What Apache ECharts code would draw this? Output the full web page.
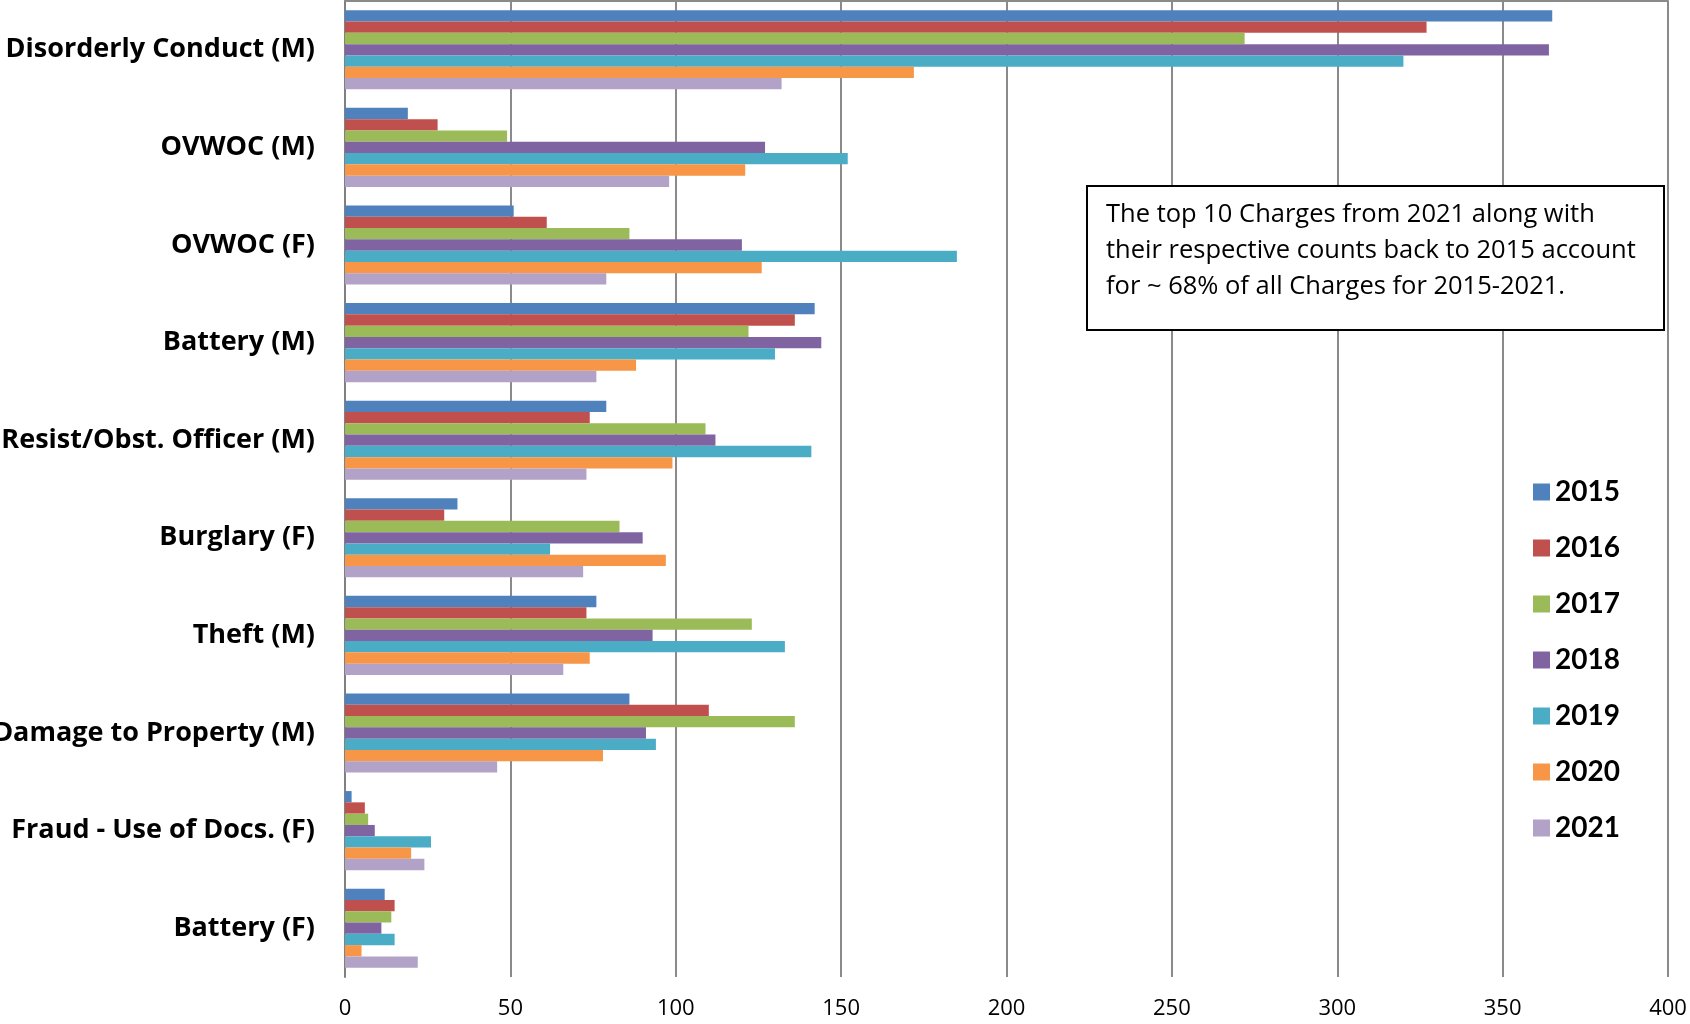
<!DOCTYPE html>
<html>
<head>
<meta charset="utf-8">
<script src="https://cdn.jsdelivr.net/npm/echarts@6/dist/echarts.min.js"></script>
<style>html,body{margin:0;padding:0;background:#fff}#c{width:1690px;height:1024px}</style>
</head>
<body>
<div id="c"></div>
<script>
const categories = ["Disorderly Conduct (M)", "OVWOC (M)", "OVWOC (F)", "Battery (M)", "Resist/Obst. Officer (M)", "Burglary (F)", "Theft (M)", "Damage to Property (M)", "Fraud - Use of Docs. (F)", "Battery (F)"];
const years = ["2015", "2016", "2017", "2018", "2019", "2020", "2021"];
const v2015 = [365, 19, 51, 142, 79, 34, 76, 86, 2, 12];
const v2016 = [327, 28, 61, 136, 74, 30, 73, 110, 6, 15];
const v2017 = [272, 49, 86, 122, 109, 83, 123, 136, 7, 14];
const v2018 = [364, 127, 120, 144, 112, 90, 93, 91, 9, 11];
const v2019 = [320, 152, 185, 130, 141, 62, 133, 94, 26, 15];
const v2020 = [172, 121, 126, 88, 99, 97, 74, 78, 20, 5];
const v2021 = [132, 98, 79, 76, 73, 72, 66, 46, 24, 22];
const xTicks = [0, 50, 100, 150, 200, 250, 300, 350, 400];
const noteLines = ["The top 10 Charges from 2021 along with", "their respective counts back to 2015 account", "for ~ 68% of all Charges for 2015-2021."];

const colors = ["#4F81BD", "#C0504D", "#9BBB59", "#8064A2", "#4BACC6", "#F79646", "#B3A2C7"];
const allValues = [v2015, v2016, v2017, v2018, v2019, v2020, v2021];
const FONT = "Lato, 'Open Sans', sans-serif";
const FONT2 = "'Open Sans', Lato, sans-serif";

const chart = echarts.init(document.getElementById('c'), null, {renderer: 'canvas'});
chart.setOption({
  animation: false,
  backgroundColor: '#ffffff',
  color: colors,
  grid: {left: 345, right: 22, top: 1, bottom: 47, containLabel: false, outerBoundsMode: 'none'},
  legend: {
    orient: 'vertical',
    left: 1528,
    top: 473,
    itemWidth: 17,
    itemHeight: 17,
    itemGap: 28,
    icon: 'rect',
    data: years,
    textStyle: {fontFamily: FONT, fontWeight: 'bold', fontSize: 28, color: '#000'}
  },
  xAxis: [{
    type: 'value',
    min: xTicks[0],
    max: xTicks[xTicks.length - 1],
    interval: xTicks[1] - xTicks[0],
    position: 'bottom',
    axisLine: {show: false},
    axisTick: {show: false},
    axisLabel: {fontFamily: FONT2, fontSize: 22, color: '#000', margin: 21},
    splitLine: {show: true, lineStyle: {color: '#8a8a8a', width: 2}}
  }, {
    type: 'value',
    min: xTicks[0],
    max: xTicks[xTicks.length - 1],
    position: 'top',
    axisLine: {show: true, lineStyle: {color: '#8a8a8a', width: 2}},
    axisTick: {show: false},
    axisLabel: {show: false},
    splitLine: {show: false}
  }],
  yAxis: {
    type: 'category',
    inverse: true,
    data: categories,
    axisLine: {show: true, onZero: false, lineStyle: {color: '#808080', width: 2}},
    axisTick: {show: false},
    axisLabel: {fontFamily: FONT2, fontWeight: 'bold', fontSize: 27, color: '#000', margin: 30}
  },
  series: years.map((y, i) => ({
    name: y,
    type: 'bar',
    xAxisIndex: 0,
    data: allValues[i],
    barGap: '0%',
    barCategoryGap: '19%',
    itemStyle: {color: colors[i]}
  })),
  graphic: [{
    type: 'group',
    left: 1086,
    top: 185,
    z: 100,
    children: [{
      type: 'rect',
      z: 100,
      shape: {x: 0, y: 0, width: 577, height: 144},
      style: {fill: '#ffffff', stroke: '#000000', lineWidth: 2}
    }, {
      type: 'text',
      z: 101,
      x: 19,
      y: 11,
      style: {
        text: noteLines.join('\n'),
        fontFamily: FONT2,
        fontSize: 25.5,
        lineHeight: 36,
        fill: '#000'
      }
    }]
  }]
});
</script>
</body>
</html>
